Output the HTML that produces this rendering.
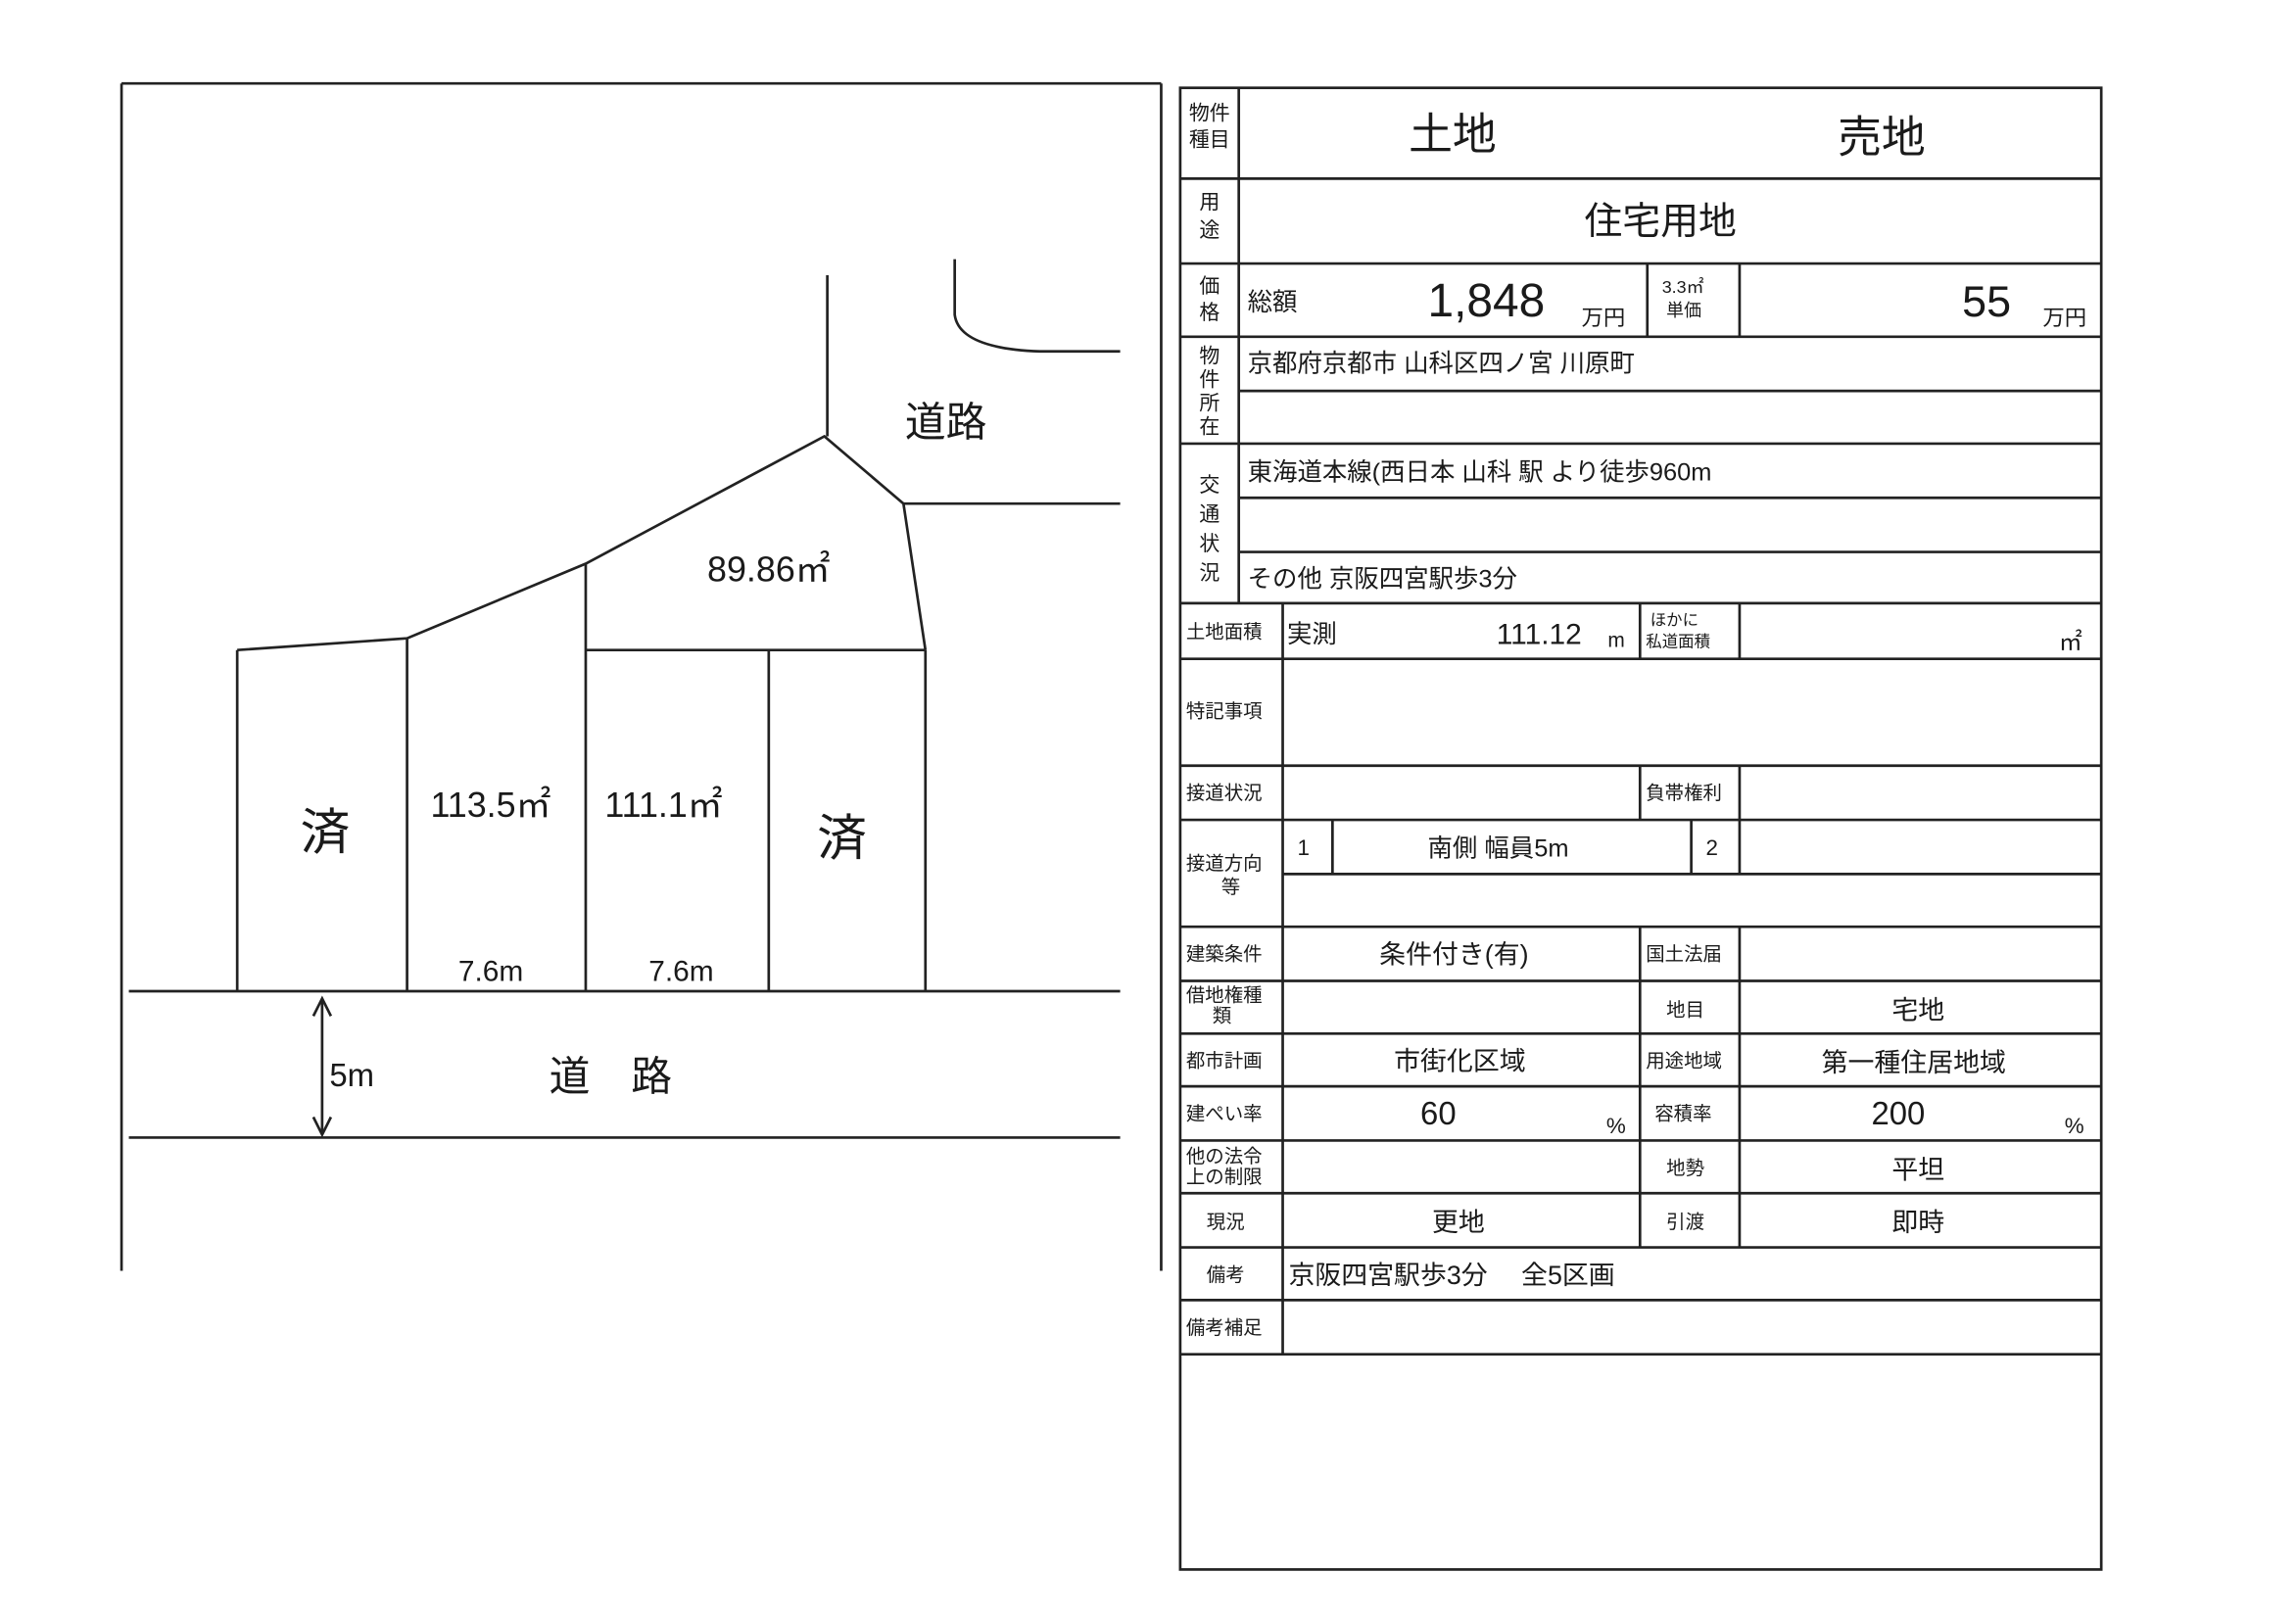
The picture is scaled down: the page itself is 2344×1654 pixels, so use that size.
<!DOCTYPE html>
<html><head><meta charset="utf-8"><style>
html,body{margin:0;padding:0;background:#fff;}
svg{display:block}
text{font-family:"Liberation Sans","Noto Sans CJK JP",sans-serif;fill:#1a1a1a;}
</style></head><body>
<svg width="2344" height="1654" viewBox="0 0 1568 1106.5" preserveAspectRatio="none" xmlns="http://www.w3.org/2000/svg">
<rect width="1568" height="1106.5" fill="#fff"/>
<g stroke="#222" stroke-width="1.8" fill="none">
<line x1="83" y1="57" x2="793" y2="57"/>
<line x1="83" y1="57" x2="83" y2="868"/>
<line x1="793" y1="57" x2="793" y2="868"/>
<line x1="565" y1="188" x2="565" y2="298"/>
<polyline points="162,444 278,436 400,385 563,298 617,344 632,444"/>
<line x1="162" y1="444" x2="162" y2="677"/>
<line x1="278" y1="436" x2="278" y2="677"/>
<line x1="400" y1="385" x2="400" y2="677"/>
<line x1="400" y1="444" x2="632" y2="444"/>
<line x1="525" y1="444" x2="525" y2="677"/>
<line x1="632" y1="444" x2="632" y2="677"/>
<line x1="88" y1="677" x2="765" y2="677"/>
<line x1="88" y1="777" x2="765" y2="777"/>
<path d="M652,177 L652,215 Q655,238 710,240 L765,240"/>
<line x1="617" y1="344" x2="765" y2="344"/>
<line x1="220" y1="682" x2="220" y2="775"/>
<polyline points="214,694 220,682 226,694"/>
<polyline points="214,763 220,775 226,763"/>
<rect x="806" y="60" width="629" height="1012"/>
<line x1="846" y1="60" x2="846" y2="412"/>
<line x1="876" y1="412" x2="876" y2="925"/>
<line x1="806" y1="122" x2="1435" y2="122"/>
<line x1="806" y1="180" x2="1435" y2="180"/>
<line x1="806" y1="230" x2="1435" y2="230"/>
<line x1="846" y1="267" x2="1435" y2="267"/>
<line x1="806" y1="303" x2="1435" y2="303"/>
<line x1="846" y1="340" x2="1435" y2="340"/>
<line x1="846" y1="377" x2="1435" y2="377"/>
<line x1="806" y1="412" x2="1435" y2="412"/>
<line x1="806" y1="450" x2="1435" y2="450"/>
<line x1="806" y1="523" x2="1435" y2="523"/>
<line x1="806" y1="560" x2="1435" y2="560"/>
<line x1="876" y1="597" x2="1435" y2="597"/>
<line x1="806" y1="633" x2="1435" y2="633"/>
<line x1="806" y1="670" x2="1435" y2="670"/>
<line x1="806" y1="706" x2="1435" y2="706"/>
<line x1="806" y1="742" x2="1435" y2="742"/>
<line x1="806" y1="779" x2="1435" y2="779"/>
<line x1="806" y1="815" x2="1435" y2="815"/>
<line x1="806" y1="852" x2="1435" y2="852"/>
<line x1="806" y1="888" x2="1435" y2="888"/>
<line x1="806" y1="925" x2="1435" y2="925"/>
<line x1="1125" y1="180" x2="1125" y2="230"/>
<line x1="1188" y1="180" x2="1188" y2="230"/>
<line x1="1120" y1="412" x2="1120" y2="450"/>
<line x1="1188" y1="412" x2="1188" y2="450"/>
<line x1="1120" y1="523" x2="1120" y2="560"/>
<line x1="1188" y1="523" x2="1188" y2="560"/>
<line x1="910" y1="560" x2="910" y2="597"/>
<line x1="1155" y1="560" x2="1155" y2="597"/>
<line x1="1188" y1="560" x2="1188" y2="597"/>
<line x1="1120" y1="633" x2="1120" y2="852"/>
<line x1="1188" y1="633" x2="1188" y2="852"/>
</g>
<text x="618" y="298" font-size="28">道路</text>
<text x="483" y="397" font-size="24">89.86㎡</text>
<text x="205" y="580" font-size="34">済</text>
<text x="294" y="558" font-size="24">113.5㎡</text>
<text x="413" y="558" font-size="24">111.1㎡</text>
<text x="558" y="584" font-size="34">済</text>
<text x="313" y="670" font-size="20">7.6m</text>
<text x="443" y="670" font-size="20">7.6m</text>
<text x="225" y="742" font-size="22">5m</text>
<text x="375" y="745" font-size="28">道　路</text>
<g font-size="14">
<text x="812" y="82">物件</text><text x="812" y="100">種目</text>
<text x="819" y="143">用</text><text x="819" y="162">途</text>
<text x="819" y="200">価</text><text x="819" y="218">格</text>
<text x="819" y="248">物</text><text x="819" y="264">件</text><text x="819" y="280">所</text><text x="819" y="296">在</text>
<text x="819" y="336">交</text><text x="819" y="356">通</text><text x="819" y="376">状</text><text x="819" y="396">況</text>
</g>
<text x="962" y="102" font-size="30">土地</text>
<text x="1255" y="104" font-size="30">売地</text>
<text x="1082" y="160" font-size="26">住宅用地</text>
<text x="852" y="212" font-size="17">総額</text>
<text x="975" y="216" font-size="32">1,848</text>
<text x="1080" y="222" font-size="15">万円</text>
<text x="1135" y="200" font-size="12">3.3㎡</text><text x="1138" y="216" font-size="12">単価</text>
<text x="1340" y="216" font-size="30">55</text>
<text x="1395" y="222" font-size="15">万円</text>
<text x="852" y="254" font-size="17">京都府京都市 山科区四ノ宮 川原町</text>
<text x="852" y="328" font-size="17">東海道本線(西日本 山科 駅 より徒歩960m</text>
<text x="852" y="401" font-size="17">その他 京阪四宮駅歩3分</text>
<g font-size="13">
<text x="810" y="436">土地面積</text>
<text x="1127" y="427" font-size="11">ほかに</text><text x="1124" y="442" font-size="11">私道面積</text>
<text x="810" y="490">特記事項</text>
<text x="810" y="546">接道状況</text>
<text x="1124" y="546">負帯権利</text>
<text x="810" y="594">接道方向</text><text x="834" y="610">等</text>
<text x="810" y="656">建築条件</text>
<text x="1124" y="656">国土法届</text>
<text x="810" y="684">借地権種</text><text x="828" y="698">類</text>
<text x="1138" y="694">地目</text>
<text x="810" y="729">都市計画</text>
<text x="1124" y="729">用途地域</text>
<text x="810" y="765">建ぺい率</text>
<text x="1130" y="765">容積率</text>
<text x="810" y="794">他の法令</text><text x="810" y="808">上の制限</text>
<text x="1138" y="802">地勢</text>
<text x="824" y="839">現況</text>
<text x="1138" y="839">引渡</text>
<text x="824" y="875">備考</text>
<text x="810" y="911">備考補足</text>
</g>
<text x="879" y="439" font-size="17">実測</text>
<text x="1022" y="440" font-size="20">111.12</text>
<text x="1098" y="442" font-size="14">m</text>
<text x="1406" y="444" font-size="16">㎡</text>
<text x="886" y="584" font-size="15">1</text>
<text x="975" y="585" font-size="17">南側 幅員5m</text>
<text x="1165" y="584" font-size="15">2</text>
<text x="942" y="658" font-size="18">条件付き(有)</text>
<text x="1292" y="696" font-size="18">宅地</text>
<text x="952" y="731" font-size="18">市街化区域</text>
<text x="1244" y="732" font-size="18">第一種住居地域</text>
<text x="970" y="768" font-size="22">60</text>
<text x="1097" y="774" font-size="15">%</text>
<text x="1278" y="768" font-size="22">200</text>
<text x="1410" y="774" font-size="15">%</text>
<text x="1292" y="805" font-size="18">平坦</text>
<text x="978" y="841" font-size="18">更地</text>
<text x="1292" y="841" font-size="18">即時</text>
<text x="880" y="877" font-size="18">京阪四宮駅歩3分　 全5区画</text>
</svg>
</body></html>
